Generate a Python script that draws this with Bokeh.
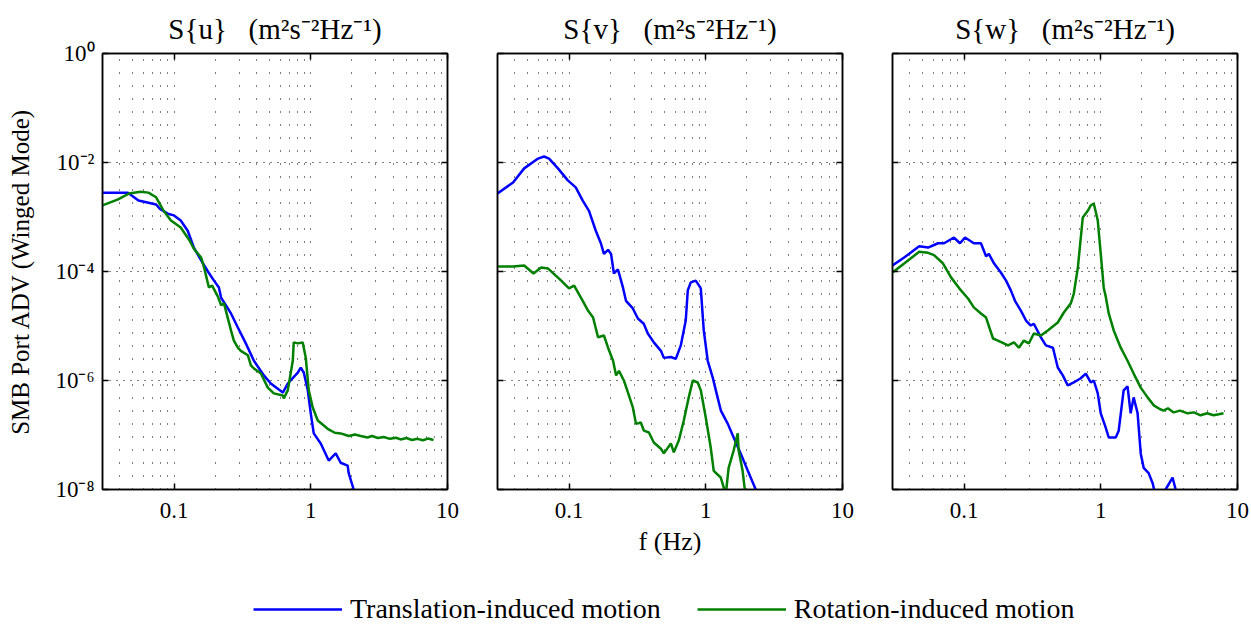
import numpy as np
from bokeh.plotting import figure
from bokeh.models import (LogAxis, FixedTicker, CustomJSTickFormatter, Legend,
                          LegendItem, Range1d, Title)
from bokeh.layouts import column, row
from bokeh.embed import file_html
from bokeh.resources import INLINE

# ---------------- data ----------------
# Panel S{u}
u_trans_f = [0.03, 0.046, 0.055, 0.074, 0.079, 0.09, 0.1, 0.112, 0.126, 0.14, 0.158, 0.177,
             0.196, 0.213, 0.221, 0.261, 0.293, 0.335, 0.384, 0.454, 0.51, 0.625, 0.679,
             0.804, 0.845, 0.889, 0.951, 1.0, 1.052, 1.183, 1.353, 1.523, 1.655, 1.862,
             1.894, 2.06, 2.15]
u_trans_s = [2.8e-3, 2.8e-3, 2.0e-3, 1.7e-3, 1.4e-3, 1.15e-3, 1.07e-3, 8.6e-4, 5.6e-4, 2.7e-4,
             1.6e-4, 1.0e-4, 6.8e-5, 5.1e-5, 3.3e-5, 1.7e-5, 9.4e-6, 4.8e-6, 2.3e-6, 1.24e-6,
             8.8e-7, 6.0e-7, 8.8e-7, 1.4e-6, 1.73e-6, 1.4e-6, 6.6e-7, 2.5e-7, 1.07e-7, 7.0e-8,
             3.4e-8, 4.6e-8, 3.1e-8, 2.75e-8, 2.0e-8, 1.0e-8, 7e-9]
u_rot_f = [0.03, 0.039, 0.047, 0.057, 0.065, 0.074, 0.084, 0.095, 0.112, 0.13, 0.14, 0.158,
           0.166, 0.18, 0.19, 0.209, 0.221, 0.232, 0.261, 0.274, 0.293, 0.308, 0.347, 0.365,
           0.384, 0.432, 0.485, 0.537, 0.625, 0.635, 0.679, 0.739, 0.751, 0.804, 0.874, 0.92,
           0.967, 1.034, 1.125, 1.33, 1.5, 1.655, 1.9, 2.1, 2.32, 2.6, 2.8, 3.1, 3.41, 3.8,
           4.2, 4.54, 5.0, 5.5, 6.04, 6.6, 7.2, 7.9]
u_rot_s = [1.63e-3, 2.1e-3, 2.7e-3, 2.9e-3, 2.8e-3, 2.3e-3, 1.3e-3, 8.6e-4, 6.4e-4, 3.7e-4,
           2.6e-4, 1.8e-4, 1.18e-4, 5.1e-5, 5.5e-5, 3.5e-5, 2.4e-5, 2.6e-5, 8.3e-6, 5.4e-6,
           4.0e-6, 3.5e-6, 2.9e-6, 1.9e-6, 1.66e-6, 1.34e-6, 7.4e-7, 5.8e-7, 5.3e-7, 4.7e-7,
           6.6e-7, 2.3e-6, 5.0e-6, 4.8e-6, 5.0e-6, 2.6e-6, 6.6e-7, 3.2e-7, 1.85e-7, 1.3e-7,
           1.1e-7, 1.07e-7, 9.6e-8, 1.02e-7, 9.6e-8, 9.0e-8, 9.6e-8, 8.8e-8, 9.2e-8, 8.5e-8,
           8.9e-8, 8.3e-8, 8.8e-8, 8.1e-8, 8.5e-8, 8.0e-8, 8.6e-8, 8.1e-8]

# Panel S{v}
v_trans_f = [0.03, 0.039, 0.047, 0.0594, 0.0657, 0.0715, 0.083, 0.098, 0.112, 0.126, 0.14,
             0.157, 0.171, 0.18, 0.193, 0.203, 0.213, 0.228, 0.248, 0.261, 0.293, 0.319, 0.352,
             0.377, 0.417, 0.47, 0.494, 0.556, 0.604, 0.657, 0.714, 0.739, 0.777, 0.845, 0.874,
             0.92, 0.967, 1.034, 1.125, 1.22, 1.29, 1.45, 1.6, 1.8, 2.03, 2.32, 2.45]
v_trans_s = [2.7e-3, 4.3e-3, 7.8e-3, 1.18e-2, 1.29e-2, 1.18e-2, 7.8e-3, 4.7e-3, 3.5e-3, 2.0e-3,
             1.3e-3, 5.6e-4, 3.3e-4, 2.1e-4, 2.5e-4, 2.1e-4, 9.2e-5, 1.09e-4, 5.1e-5, 2.9e-5,
             2.1e-5, 1.37e-5, 1.1e-5, 7.3e-6, 5.0e-6, 3.5e-6, 2.6e-6, 2.7e-6, 2.5e-6, 4.4e-6,
             1.26e-5, 4.5e-5, 6.3e-5, 6.8e-5, 6.0e-5, 4.9e-5, 8.3e-6, 2.3e-6, 1.13e-6, 4.9e-7,
             2.8e-7, 1.6e-7, 9.0e-8, 4.6e-8, 2.2e-8, 1.0e-8, 7e-9]
v_rot_f = [0.03, 0.039, 0.047, 0.055, 0.0625, 0.0704, 0.0846, 0.1, 0.109, 0.126, 0.138, 0.15,
           0.163, 0.18, 0.193, 0.21, 0.221, 0.232, 0.252, 0.27, 0.293, 0.309, 0.335, 0.353,
           0.384, 0.417, 0.47, 0.494, 0.556, 0.584, 0.635, 0.691, 0.751, 0.804, 0.874, 0.92,
           1.0, 1.087, 1.144, 1.287, 1.353, 1.4, 1.47, 1.6, 1.713, 1.74, 1.86, 1.95]
v_rot_s = [1.24e-4, 1.24e-4, 1.29e-4, 9.2e-5, 1.18e-4, 1.13e-4, 7.4e-5, 4.9e-5, 5.5e-5, 2.9e-5,
           1.9e-5, 1.43e-5, 6.2e-6, 6.7e-6, 4.0e-6, 2.3e-6, 1.24e-6, 1.5e-6, 1.0e-6, 6.0e-7,
           3.2e-7, 1.6e-7, 1.7e-7, 1.2e-7, 1.11e-7, 7.3e-8, 5.6e-8, 4.6e-8, 7.0e-8, 4.8e-8,
           7.9e-8, 1.85e-7, 4.9e-7, 1.0e-6, 9.2e-7, 6.6e-7, 2.1e-7, 5.9e-8, 2.2e-8, 1.66e-8,
           1.09e-8, 8e-9, 2.5e-8, 5.2e-8, 1.07e-7, 5.2e-8, 2.2e-8, 8e-9]

# Panel S{w}
w_trans_f = [0.03, 0.0365, 0.047, 0.0546, 0.0646, 0.0715, 0.0845, 0.0935, 0.1017, 0.118, 0.133,
             0.145, 0.152, 0.166, 0.186, 0.203, 0.22, 0.236, 0.261, 0.284, 0.308, 0.324, 0.365,
             0.397, 0.447, 0.485, 0.528, 0.574, 0.635, 0.714, 0.777, 0.845, 0.889, 0.951, 1.0,
             1.087, 1.144, 1.287, 1.353, 1.47, 1.57, 1.655, 1.74, 1.86, 1.96, 2.06, 2.24, 2.4,
             2.5, 2.7, 2.9, 2.98, 3.35, 3.53, 3.6]
w_trans_s = [1.29e-4, 1.8e-4, 2.9e-4, 2.75e-4, 3.3e-4, 3.3e-4, 4.2e-4, 3.3e-4, 4.2e-4, 3.3e-4,
             3.3e-4, 1.9e-4, 2.1e-4, 1.4e-4, 9.6e-5, 6.8e-5, 4.5e-5, 2.9e-5, 1.9e-5, 1.26e-5,
             1.02e-5, 1.1e-5, 6.2e-6, 4.4e-6, 4.0e-6, 1.73e-6, 1.24e-6, 8.1e-7, 9.2e-7, 1.1e-6,
             1.34e-6, 9.2e-7, 1.0e-6, 5.8e-7, 2.5e-7, 1.37e-7, 9.0e-8, 9.0e-8, 1.2e-7, 6.6e-7,
             7.8e-7, 2.5e-7, 4.9e-7, 2.5e-7, 4.6e-8, 2.5e-8, 2.0e-8, 1.29e-8, 8e-9, 5e-9, 8e-9,
             1.0e-8, 1.66e-8, 1.0e-8, 8e-9]
w_rot_f = [0.03, 0.0365, 0.047, 0.0546, 0.0604, 0.0703, 0.0804, 0.095, 0.107, 0.118, 0.133,
           0.145, 0.163, 0.177, 0.21, 0.232, 0.252, 0.274, 0.298, 0.324, 0.365, 0.41, 0.485,
           0.537, 0.604, 0.635, 0.68, 0.739, 0.804, 0.845, 0.889, 0.951, 1.0, 1.052, 1.087,
           1.144, 1.244, 1.4, 1.57, 1.74, 1.96, 2.2, 2.44, 2.7, 2.88, 3.1, 3.41, 3.8, 4.32,
           4.8, 5.37, 6.0, 6.68, 7.3, 7.9]
w_rot_s = [9.6e-5, 1.4e-4, 2.3e-4, 2.2e-4, 2.0e-4, 1.4e-4, 7.8e-5, 4.5e-5, 3.2e-5, 2.2e-5,
           1.7e-5, 1.43e-5, 5.9e-6, 5.4e-6, 4.4e-6, 5.0e-6, 4.0e-6, 5.4e-6, 4.8e-6, 7.3e-6,
           6.7e-6, 8.3e-6, 1.16e-5, 1.77e-5, 2.6e-5, 3.9e-5, 1.18e-4, 9.8e-4, 1.3e-3, 1.63e-3,
           1.77e-3, 8.6e-4, 2.1e-4, 5.0e-5, 3.5e-5, 1.7e-5, 8.3e-6, 4.0e-6, 2.3e-6, 1.34e-6,
           7.4e-7, 4.9e-7, 3.5e-7, 3.0e-7, 2.8e-7, 3.1e-7, 2.6e-7, 2.8e-7, 2.5e-7, 2.6e-7,
           2.3e-7, 2.5e-7, 2.3e-7, 2.4e-7, 2.5e-7]

NBSP = "\u00a0"
panel_titles = ["S{u}" + NBSP * 3 + "(m²s⁻²Hz⁻¹)",
                "S{v}" + NBSP * 3 + "(m²s⁻²Hz⁻¹)",
                "S{w}" + NBSP * 3 + "(m²s⁻²Hz⁻¹)"]
y_axis_title = "SMB Port ADV (Winged Mode)"
x_axis_title = "f (Hz)"
legend_labels = ["Translation-induced motion", "Rotation-induced motion"]

x_ticks = [0.1, 1, 10]
x_tick_labels = ["0.1", "1", "10"]
x_grid_ticks = [0.04, 0.05, 0.06, 0.07, 0.08, 0.09, 0.1, 0.2, 0.3, 0.4, 0.5, 0.6, 0.7, 0.8,
                0.9, 1, 2, 3, 4, 5, 6, 7, 8, 9]
y_ticks = [1e-8, 1e-6, 1e-4, 1e-2, 1]
y_tick_labels = ["10⁻⁸", "10⁻⁶", "10⁻⁴", "10⁻²", "10⁰"]
y_grid_ticks = [1e-6, 1e-4, 1e-2]

TRANS_COLOR = "#0000ff"
ROT_COLOR = "#008000"
FONT = "Liberation Serif"
LW = 2.5

FMT_CODE = """
let best = 0, bd = 1e9;
for (let i = 0; i < tvals.length; i++) {
  const d = Math.abs(Math.log10(tick) - Math.log10(tvals[i]));
  if (d < bd) { bd = d; best = i; }
}
return tlabels[best];
"""
EMPTY_CODE = "return '';"


def style_axis(ax, show_labels):
    ax.axis_line_width = 1.5
    ax.axis_line_color = "black"
    ax.major_tick_in = 6
    ax.major_tick_out = 0
    ax.major_tick_line_width = 1.5
    ax.minor_tick_in = 0
    ax.minor_tick_out = 0
    ax.major_label_text_font = FONT
    ax.major_label_text_color = "black"
    if not show_labels:
        ax.formatter = CustomJSTickFormatter(code=EMPTY_CODE)
        ax.major_label_text_font_size = "0px"
        ax.major_label_standoff = 0


def make_panel(idx, ft, st, fr, sr, width, bl, br):
    p = figure(width=width, height=569, x_axis_type="log", y_axis_type="log",
               x_range=Range1d(0.03, 10), y_range=Range1d(1e-8, 1),
               output_backend="svg", toolbar_location=None, title=None,
               min_border_left=bl, min_border_right=br,
               min_border_top=53, min_border_bottom=80)
    p.background_fill_color = "white"
    p.border_fill_color = "white"
    p.outline_line_color = "black"
    p.outline_line_width = 1.5

    # x axis (bottom)
    xb = p.xaxis[0]
    xb.ticker = FixedTicker(ticks=x_ticks)
    xb.formatter = CustomJSTickFormatter(args=dict(tvals=x_ticks, tlabels=x_tick_labels),
                                         code=FMT_CODE)
    style_axis(xb, True)
    xb.major_label_text_font_size = "23px"
    xb.major_label_standoff = 13
    if idx == 1:
        xb.axis_label = x_axis_title
        xb.axis_label_text_font = FONT
        xb.axis_label_text_font_style = "normal"
        xb.axis_label_text_font_size = "26px"
        xb.axis_label_standoff = 6
        xb.axis_label_text_color = "black"

    # y axis (left)
    yl = p.yaxis[0]
    yl.ticker = FixedTicker(ticks=y_ticks)
    if idx == 0:
        yl.formatter = CustomJSTickFormatter(args=dict(tvals=y_ticks, tlabels=y_tick_labels),
                                             code=FMT_CODE)
        style_axis(yl, True)
        yl.major_label_text_font_size = "23px"
        yl.major_label_standoff = 8
        yl.axis_label = y_axis_title
        yl.axis_label_text_font = FONT
        yl.axis_label_text_font_style = "normal"
        yl.axis_label_text_font_size = "25px"
        yl.axis_label_standoff = 18
        yl.axis_label_text_color = "black"
    else:
        style_axis(yl, False)

    # top and right axes (ticks only)
    xt = LogAxis(ticker=FixedTicker(ticks=x_ticks))
    style_axis(xt, False)
    p.add_layout(xt, "above")
    yr = LogAxis(ticker=FixedTicker(ticks=y_ticks))
    style_axis(yr, False)
    p.add_layout(yr, "right")

    # title (added after the top axis so it sits outside it)
    t = Title(text=panel_titles[idx], align="center", text_font=FONT,
              text_font_size="29px", text_font_style="normal", text_color="black",
              standoff=18)
    p.add_layout(t, "above")

    # grids
    p.xgrid[0].ticker = FixedTicker(ticks=x_grid_ticks)
    p.xgrid[0].grid_line_color = "#000000"
    p.xgrid[0].grid_line_dash = "1 12"
    p.xgrid[0].grid_line_width = 1
    p.ygrid[0].ticker = FixedTicker(ticks=y_grid_ticks)
    p.ygrid[0].grid_line_color = "#000000"
    p.ygrid[0].grid_line_dash = "1 6"
    p.ygrid[0].grid_line_width = 1

    p.line(ft, st, color=TRANS_COLOR, line_width=LW)
    p.line(fr, sr, color=ROT_COLOR, line_width=LW)
    return p


p1 = make_panel(0, u_trans_f, u_trans_s, u_rot_f, u_rot_s, 472, 102, 25)
p2 = make_panel(1, v_trans_f, v_trans_s, v_rot_f, v_rot_s, 395, 25, 25)
p3 = make_panel(2, w_trans_f, w_trans_s, w_rot_f, w_rot_s, 382, 25, 12)

# legend strip (its two key lines lie outside the strip's visible range)
leg = figure(width=1249, height=56, output_backend="svg", toolbar_location=None,
             x_range=Range1d(0, 1), y_range=Range1d(0, 1), min_border=0,
             x_axis_location=None, y_axis_location=None, title=None)
leg.outline_line_color = None
leg.grid.visible = False
leg.border_fill_color = "white"
key_x = [-3, -2]
key_y = [-3, -2]
r_t = leg.line(x=key_x, y=key_y, color=TRANS_COLOR, line_width=LW)
r_r = leg.line(x=key_x, y=key_y, color=ROT_COLOR, line_width=LW)
legend = Legend(items=[LegendItem(label=legend_labels[0], renderers=[r_t]),
                       LegendItem(label=legend_labels[1], renderers=[r_r])],
                orientation="horizontal", location=(253, 0),
                glyph_width=89, glyph_height=20, label_standoff=8, spacing=36,
                padding=0, margin=0, border_line_color=None,
                background_fill_alpha=0, label_text_font=FONT,
                label_text_font_size="28px", label_text_color="black")
leg.add_layout(legend, "center")

layout = column(row(p1, p2, p3), leg)

open("out.html", "w").write(file_html(layout, INLINE))
